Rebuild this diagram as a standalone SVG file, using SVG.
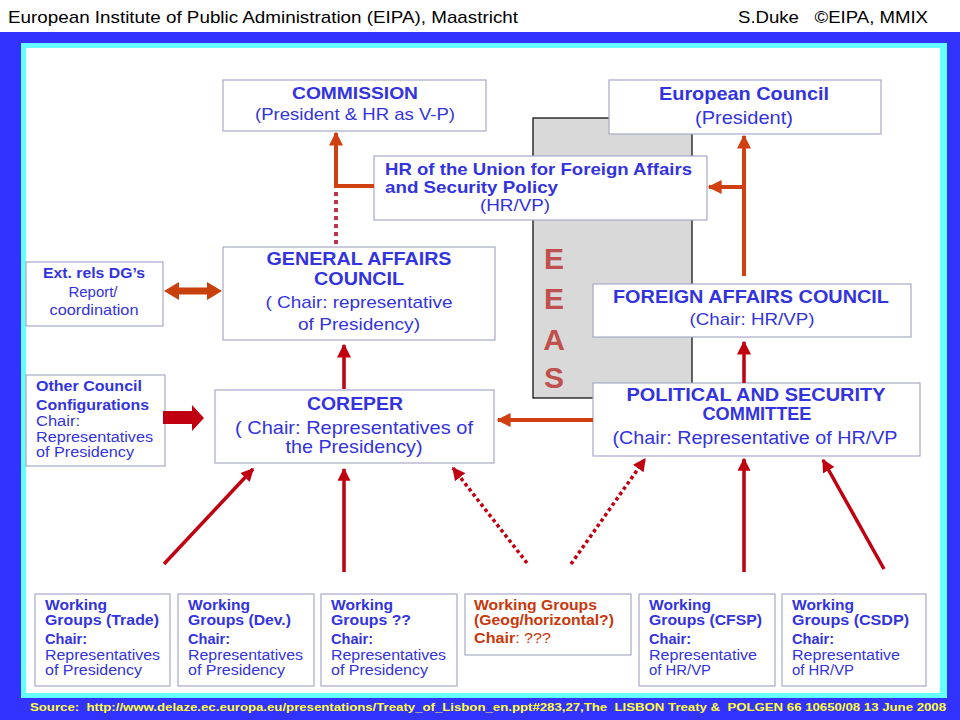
<svg xmlns="http://www.w3.org/2000/svg" width="960" height="720" viewBox="0 0 960 720">
<defs>
<style>
.box{fill:#fff;stroke:#a8a8c8;stroke-width:1.2}
.t{font-family:"Liberation Sans",Arial,sans-serif;fill:#3333e0}
.b{font-weight:bold}
.c{text-anchor:middle}
.wg{font-family:"Liberation Sans",Arial,sans-serif;fill:#3333e0;font-size:14px}
.wgb{font-weight:bold;font-size:14px}
.or{fill:#c8380c}
.orl{stroke:#d04010;fill:none;stroke-width:4}
.rdl{stroke:#c00010;fill:none;stroke-width:3.5}
.dot{stroke:#c03050;fill:none;stroke-width:4;stroke-dasharray:4 4}
.rdot{stroke:#c00010;fill:none;stroke-width:3.5;stroke-dasharray:3.5 3}
</style>
<marker id="ho" viewBox="0 0 10 10" refX="9" refY="5" markerWidth="14" markerHeight="14" markerUnits="userSpaceOnUse" orient="auto"><path d="M0,0 L10,5 L0,10 z" fill="#d04010"/></marker>
<marker id="hr" viewBox="0 0 10 10" refX="9" refY="5" markerWidth="13" markerHeight="13" markerUnits="userSpaceOnUse" orient="auto"><path d="M0,0 L10,5 L0,10 z" fill="#c00010"/></marker>
<marker id="hre" viewBox="0 0 10 10" refX="9" refY="5" markerWidth="14" markerHeight="14" markerUnits="userSpaceOnUse" orient="auto"><path d="M0,0 L10,5 L0,10 z" fill="#c00010"/></marker>
</defs>

<rect x="0" y="0" width="960" height="720" fill="#fff"/>
<rect x="0" y="32" width="960" height="688" fill="#3333ff"/>
<rect x="21" y="43" width="926" height="655" fill="#66ffff"/>
<rect x="26" y="48" width="914" height="645" fill="#fff"/>

<g id="header" font-family="'Liberation Sans',Arial,sans-serif" font-size="17" fill="#000">
<text x="8" y="23" textLength="510" lengthAdjust="spacingAndGlyphs">European Institute of Public Administration (EIPA), Maastricht</text>
<text x="738" y="23" textLength="190" lengthAdjust="spacingAndGlyphs" xml:space="preserve">S.Duke   ©EIPA, MMIX</text>
</g>

<g id="eeas">
<rect x="533" y="118" width="159" height="280" fill="#d9d9d9" stroke="#000" stroke-width="1.2"/>
<g font-family="'Liberation Sans',Arial,sans-serif" font-weight="bold" font-size="30" fill="#c0504d" text-anchor="middle">
<text x="554" y="269">E</text>
<text x="554" y="309">E</text>
<text x="554" y="350">A</text>
<text x="554" y="388">S</text>
</g>
</g>

<g id="commission">
<rect class="box" x="223" y="80" width="263" height="51"/>
<text class="t b c" x="355" y="99" font-size="17" textLength="126" lengthAdjust="spacingAndGlyphs">COMMISSION</text>
<text class="t c" x="355" y="120" font-size="17" textLength="200" lengthAdjust="spacingAndGlyphs">(President &amp; HR as V-P)</text>
</g>

<g id="european-council">
<rect class="box" x="609" y="80" width="272" height="54"/>
<text class="t b c" x="744" y="100" font-size="19" textLength="170" lengthAdjust="spacingAndGlyphs">European Council</text>
<text class="t c" x="744" y="124" font-size="19" textLength="98" lengthAdjust="spacingAndGlyphs">(President)</text>
</g>

<g id="hr">
<rect class="box" x="374" y="156" width="333" height="64"/>
<text class="t b" x="385" y="175" font-size="17" textLength="307" lengthAdjust="spacingAndGlyphs">HR of the Union for Foreign Affairs</text>
<text class="t b" x="385" y="193" font-size="17" textLength="173" lengthAdjust="spacingAndGlyphs">and Security Policy</text>
<text class="t c" x="515" y="211" font-size="17" textLength="70" lengthAdjust="spacingAndGlyphs">(HR/VP)</text>
</g>

<g id="gac">
<rect class="box" x="223" y="247" width="272" height="93"/>
<text class="t b c" x="359" y="265" font-size="18" textLength="185" lengthAdjust="spacingAndGlyphs">GENERAL AFFAIRS</text>
<text class="t b c" x="359" y="285" font-size="18" textLength="90" lengthAdjust="spacingAndGlyphs">COUNCIL</text>
<text class="t c" x="359" y="308" font-size="17" textLength="187" lengthAdjust="spacingAndGlyphs">( Chair: representative</text>
<text class="t c" x="359" y="330" font-size="17" textLength="122" lengthAdjust="spacingAndGlyphs">of Presidency)</text>
</g>

<g id="ext-rels">
<rect class="box" x="26" y="262" width="137" height="64"/>
<text class="t b c" x="94" y="278" font-size="15" textLength="102" lengthAdjust="spacingAndGlyphs">Ext. rels DG’s</text>
<text class="t c" x="93" y="297" font-size="15" textLength="49" lengthAdjust="spacingAndGlyphs">Report/</text>
<text class="t c" x="94" y="315" font-size="15" textLength="89" lengthAdjust="spacingAndGlyphs">coordination</text>
</g>

<g id="other-council">
<rect class="box" x="26" y="375" width="139" height="91"/>
<text class="t b" x="36" y="391" font-size="14.5" textLength="106" lengthAdjust="spacingAndGlyphs">Other Council</text>
<text class="t b" x="36" y="410" font-size="14.5" textLength="113" lengthAdjust="spacingAndGlyphs">Configurations</text>
<text class="t" x="36" y="426" font-size="14" textLength="44" lengthAdjust="spacingAndGlyphs">Chair:</text>
<text class="t" x="36" y="442" font-size="14" textLength="117" lengthAdjust="spacingAndGlyphs">Representatives</text>
<text class="t" x="36" y="457" font-size="14" textLength="98" lengthAdjust="spacingAndGlyphs">of Presidency</text>
</g>

<g id="coreper">
<rect class="box" x="215" y="390" width="279" height="73"/>
<text class="t b c" x="355" y="410" font-size="19" textLength="96" lengthAdjust="spacingAndGlyphs">COREPER</text>
<text class="t c" x="354" y="434" font-size="19" textLength="238" lengthAdjust="spacingAndGlyphs">( Chair: Representatives of</text>
<text class="t c" x="354" y="453" font-size="19" textLength="137" lengthAdjust="spacingAndGlyphs">the Presidency)</text>
</g>

<g id="fac">
<rect class="box" x="593" y="284" width="318" height="53"/>
<text class="t b c" x="751" y="303" font-size="18" textLength="276" lengthAdjust="spacingAndGlyphs">FOREIGN AFFAIRS COUNCIL</text>
<text class="t c" x="752" y="325" font-size="17" textLength="125" lengthAdjust="spacingAndGlyphs">(Chair: HR/VP)</text>
</g>

<g id="psc">
<rect class="box" x="593" y="383" width="327" height="73"/>
<text class="t b c" x="756" y="401" font-size="18" textLength="259" lengthAdjust="spacingAndGlyphs">POLITICAL AND SECURITY</text>
<text class="t b c" x="757" y="420" font-size="18" textLength="109" lengthAdjust="spacingAndGlyphs">COMMITTEE</text>
<text class="t c" x="755" y="444" font-size="18" textLength="285" lengthAdjust="spacingAndGlyphs">(Chair: Representative of HR/VP</text>
</g>

<g id="wg-trade" class="wg">
<rect class="box" x="35" y="594" width="135" height="92"/>
<text class="wgb" x="45" y="610" textLength="62" lengthAdjust="spacingAndGlyphs">Working</text>
<text class="wgb" x="45" y="625" textLength="114" lengthAdjust="spacingAndGlyphs">Groups (Trade)</text>
<text class="wgb" x="45" y="644" textLength="42" lengthAdjust="spacingAndGlyphs">Chair:</text>
<text x="45" y="660" textLength="115" lengthAdjust="spacingAndGlyphs">Representatives</text>
<text x="45" y="675" textLength="97" lengthAdjust="spacingAndGlyphs">of Presidency</text>
</g>
<g id="wg-dev" class="wg">
<rect class="box" x="178" y="594" width="136" height="92"/>
<text class="wgb" x="188" y="610" textLength="62" lengthAdjust="spacingAndGlyphs">Working</text>
<text class="wgb" x="188" y="625" textLength="103" lengthAdjust="spacingAndGlyphs">Groups (Dev.)</text>
<text class="wgb" x="188" y="644" textLength="42" lengthAdjust="spacingAndGlyphs">Chair:</text>
<text x="188" y="660" textLength="115" lengthAdjust="spacingAndGlyphs">Representatives</text>
<text x="188" y="675" textLength="97" lengthAdjust="spacingAndGlyphs">of Presidency</text>
</g>
<g id="wg-unknown" class="wg">
<rect class="box" x="321" y="594" width="136" height="92"/>
<text class="wgb" x="331" y="610" textLength="62" lengthAdjust="spacingAndGlyphs">Working</text>
<text class="wgb" x="331" y="625" textLength="80" lengthAdjust="spacingAndGlyphs">Groups ??</text>
<text class="wgb" x="331" y="644" textLength="42" lengthAdjust="spacingAndGlyphs">Chair:</text>
<text x="331" y="660" textLength="115" lengthAdjust="spacingAndGlyphs">Representatives</text>
<text x="331" y="675" textLength="97" lengthAdjust="spacingAndGlyphs">of Presidency</text>
</g>
<g id="wg-geog" class="wg">
<rect class="box" x="465" y="594" width="166" height="61"/>
<text class="wgb or" x="474" y="610" textLength="123" lengthAdjust="spacingAndGlyphs">Working Groups</text>
<text class="wgb or" x="474" y="625" textLength="140" lengthAdjust="spacingAndGlyphs">(Geog/horizontal?)</text>
<text class="or" x="474" y="643" textLength="77" lengthAdjust="spacingAndGlyphs"><tspan font-weight="bold">Chair</tspan>: ???</text>
</g>
<g id="wg-cfsp" class="wg">
<rect class="box" x="639" y="594" width="136" height="92"/>
<text class="wgb" x="649" y="610" textLength="62" lengthAdjust="spacingAndGlyphs">Working</text>
<text class="wgb" x="649" y="625" textLength="113" lengthAdjust="spacingAndGlyphs">Groups (CFSP)</text>
<text class="wgb" x="649" y="644" textLength="42" lengthAdjust="spacingAndGlyphs">Chair:</text>
<text x="649" y="660" textLength="108" lengthAdjust="spacingAndGlyphs">Representative</text>
<text x="649" y="675" textLength="62" lengthAdjust="spacingAndGlyphs">of HR/VP</text>
</g>
<g id="wg-csdp" class="wg">
<rect class="box" x="782" y="594" width="144" height="92"/>
<text class="wgb" x="792" y="610" textLength="62" lengthAdjust="spacingAndGlyphs">Working</text>
<text class="wgb" x="792" y="625" textLength="117" lengthAdjust="spacingAndGlyphs">Groups (CSDP)</text>
<text class="wgb" x="792" y="644" textLength="42" lengthAdjust="spacingAndGlyphs">Chair:</text>
<text x="792" y="660" textLength="108" lengthAdjust="spacingAndGlyphs">Representative</text>
<text x="792" y="675" textLength="62" lengthAdjust="spacingAndGlyphs">of HR/VP</text>
</g>

<g id="connectors">
<path class="orl" d="M374,186 H336 V133" marker-end="url(#ho)"/>
<path class="dot" d="M336,192 V245"/>
<path class="orl" d="M744,276 V136" marker-end="url(#ho)"/>
<path class="orl" d="M744,187 H709" marker-end="url(#ho)"/>
<path d="M164,291 L179,282 L179,287.5 L207,287.5 L207,282 L222,291 L207,300 L207,294.5 L179,294.5 L179,300 z" fill="#c8400c"/>
<path d="M163,411 L192,411 L192,405 L204,418 L192,431 L192,424 L163,424 z" fill="#c00010"/>
<path class="rdl" d="M344,389 V345" marker-end="url(#hre)"/>
<path class="orl" d="M593,420 H498" marker-end="url(#ho)"/>
<path class="rdl" d="M744,383 V342" marker-end="url(#hre)"/>
<path class="rdl" d="M164,564 L253,469" marker-end="url(#hr)"/>
<path class="rdl" d="M344,572 V469" marker-end="url(#hr)"/>
<path class="rdot" d="M527,563 L453,468" marker-end="url(#hr)"/>
<path class="rdot" d="M571,564 L645,459" marker-end="url(#hr)"/>
<path class="rdl" d="M744,572 V459" marker-end="url(#hr)"/>
<path class="rdl" d="M884,569 L823,460" marker-end="url(#hr)"/>
</g>

<g id="source">
<text x="30" y="711" font-family="'Liberation Sans',Arial,sans-serif" font-weight="bold" font-size="11.5" fill="#ffff33" textLength="916" lengthAdjust="spacingAndGlyphs" xml:space="preserve">Source:  http://www.delaze.ec.europa.eu/presentations/Treaty_of_Lisbon_en.ppt#283,27,The  LISBON Treaty &amp;  POLGEN 66 10650/08 13 June 2008</text>
</g>
</svg>
